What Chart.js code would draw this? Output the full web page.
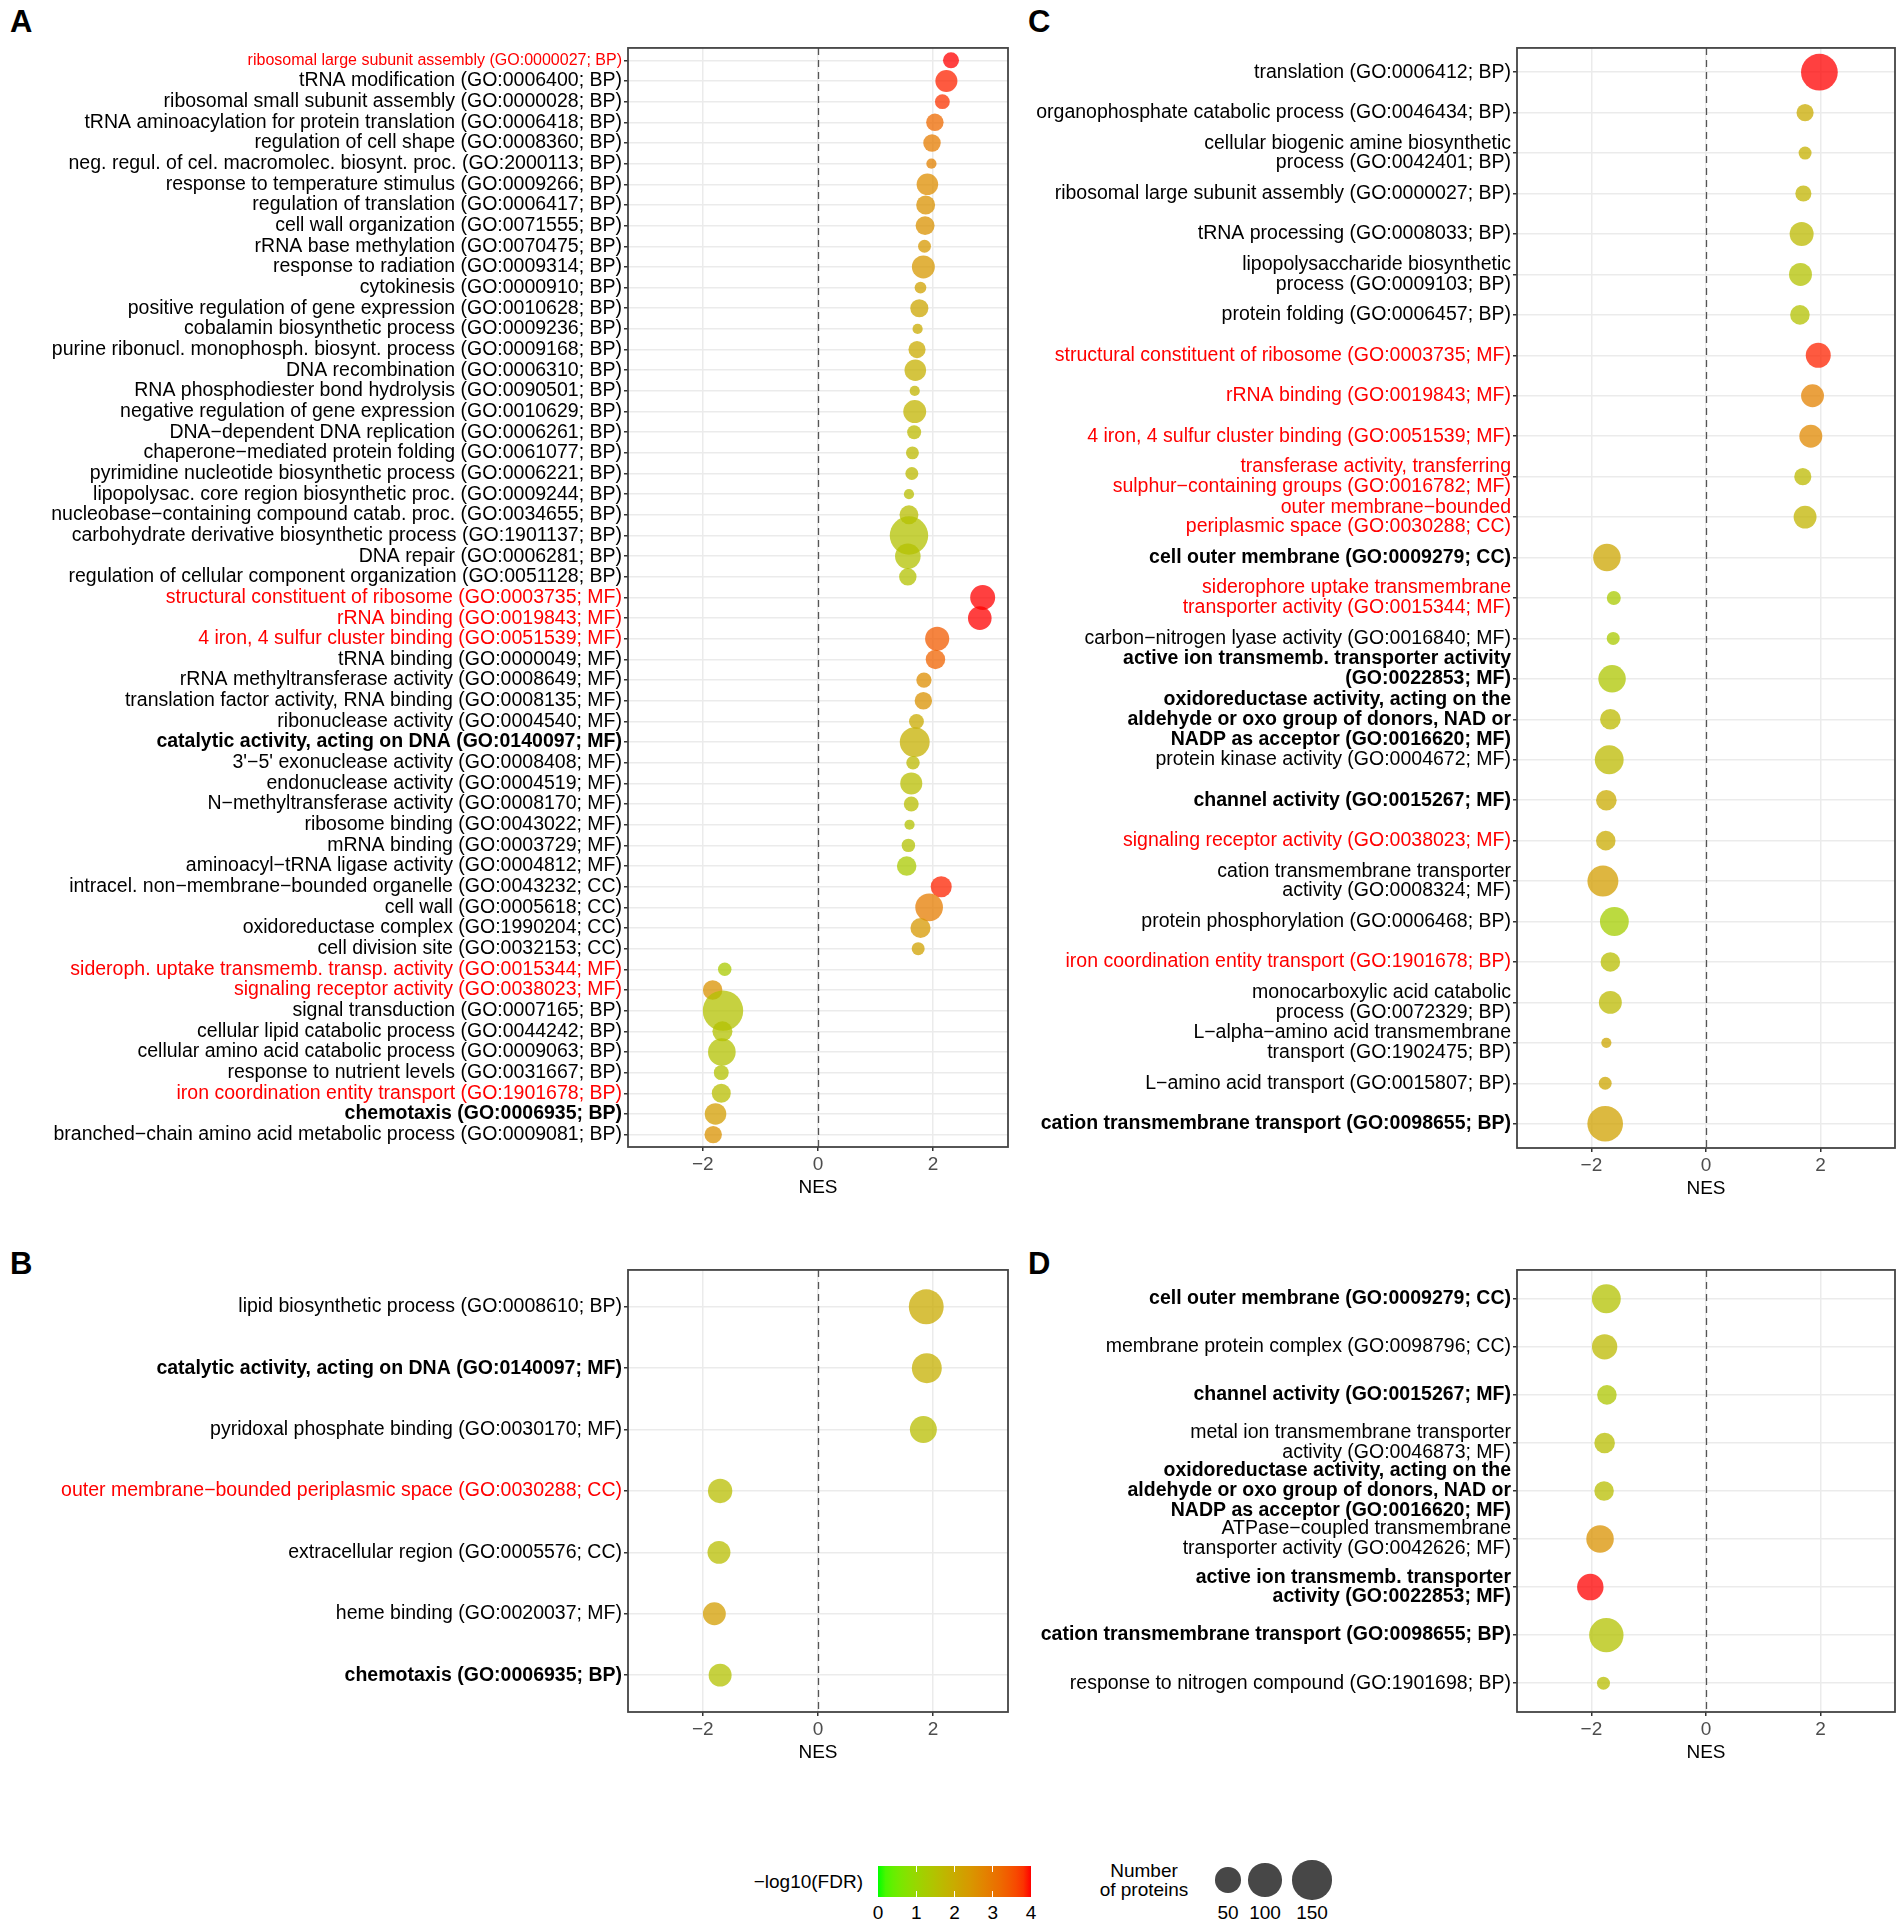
<!DOCTYPE html>
<html>
<head>
<meta charset="utf-8">
<script src="https://cdn.jsdelivr.net/npm/chart.js@4.4.0/dist/chart.umd.min.js"></script>
<style>
  body { margin: 0; background: #fff; width: 1904px; height: 1929px; position: relative; overflow: hidden;
         font-family: "Liberation Sans", Arial, sans-serif; color: #000; }
  canvas { position: absolute; }
  .tag { position: absolute; font-weight: bold; font-size: 31px; line-height: 31px; }
</style>
</head>
<body>
<div class="tag" style="left:10px;top:6px">A</div>
<div class="tag" style="left:1028px;top:6px">C</div>
<div class="tag" style="left:10px;top:1248px">B</div>
<div class="tag" style="left:1028px;top:1248px">D</div>
<canvas id="panelA"></canvas>
<canvas id="panelB"></canvas>
<canvas id="panelC"></canvas>
<canvas id="panelD"></canvas>
<div id="legend"></div>
<script>
// ---- panel A ----
const aLabels = [
  'ribosomal large subunit assembly (GO:0000027; BP)',
  'tRNA modification (GO:0006400; BP)',
  'ribosomal small subunit assembly (GO:0000028; BP)',
  'tRNA aminoacylation for protein translation (GO:0006418; BP)',
  'regulation of cell shape (GO:0008360; BP)',
  'neg. regul. of cel. macromolec. biosynt. proc. (GO:2000113; BP)',
  'response to temperature stimulus (GO:0009266; BP)',
  'regulation of translation (GO:0006417; BP)',
  'cell wall organization (GO:0071555; BP)',
  'rRNA base methylation (GO:0070475; BP)',
  'response to radiation (GO:0009314; BP)',
  'cytokinesis (GO:0000910; BP)',
  'positive regulation of gene expression (GO:0010628; BP)',
  'cobalamin biosynthetic process (GO:0009236; BP)',
  'purine ribonucl. monophosph. biosynt. process (GO:0009168; BP)',
  'DNA recombination (GO:0006310; BP)',
  'RNA phosphodiester bond hydrolysis (GO:0090501; BP)',
  'negative regulation of gene expression (GO:0010629; BP)',
  'DNA\u2212dependent DNA replication (GO:0006261; BP)',
  'chaperone\u2212mediated protein folding (GO:0061077; BP)',
  'pyrimidine nucleotide biosynthetic process (GO:0006221; BP)',
  'lipopolysac. core region biosynthetic proc. (GO:0009244; BP)',
  'nucleobase\u2212containing compound catab. proc. (GO:0034655; BP)',
  'carbohydrate derivative biosynthetic process (GO:1901137; BP)',
  'DNA repair (GO:0006281; BP)',
  'regulation of cellular component organization (GO:0051128; BP)',
  'structural constituent of ribosome (GO:0003735; MF)',
  'rRNA binding (GO:0019843; MF)',
  '4 iron, 4 sulfur cluster binding (GO:0051539; MF)',
  'tRNA binding (GO:0000049; MF)',
  'rRNA methyltransferase activity (GO:0008649; MF)',
  'translation factor activity, RNA binding (GO:0008135; MF)',
  'ribonuclease activity (GO:0004540; MF)',
  'catalytic activity, acting on DNA (GO:0140097; MF)',
  "3'\u22125' exonuclease activity (GO:0008408; MF)",
  'endonuclease activity (GO:0004519; MF)',
  'N\u2212methyltransferase activity (GO:0008170; MF)',
  'ribosome binding (GO:0043022; MF)',
  'mRNA binding (GO:0003729; MF)',
  'aminoacyl\u2212tRNA ligase activity (GO:0004812; MF)',
  'intracel. non\u2212membrane\u2212bounded organelle (GO:0043232; CC)',
  'cell wall (GO:0005618; CC)',
  'oxidoreductase complex (GO:1990204; CC)',
  'cell division site (GO:0032153; CC)',
  'sideroph. uptake transmemb. transp. activity (GO:0015344; MF)',
  'signaling receptor activity (GO:0038023; MF)',
  'signal transduction (GO:0007165; BP)',
  'cellular lipid catabolic process (GO:0044242; BP)',
  'cellular amino acid catabolic process (GO:0009063; BP)',
  'response to nutrient levels (GO:0031667; BP)',
  'iron coordination entity transport (GO:1901678; BP)',
  'chemotaxis (GO:0006935; BP)',
  'branched\u2212chain amino acid metabolic process (GO:0009081; BP)'
];
const aNES = [2.31, 2.23, 2.16, 2.03, 1.98, 1.97, 1.90, 1.87, 1.86, 1.85, 1.83, 1.78, 1.76,
  1.73, 1.72, 1.69, 1.68, 1.68, 1.67, 1.64, 1.63, 1.58, 1.58, 1.58, 1.56, 1.56,
  2.86, 2.81, 2.07, 2.04, 1.84, 1.83, 1.71, 1.68, 1.65, 1.62, 1.62, 1.59, 1.57, 1.54,
  2.14, 1.93, 1.78, 1.74,
  -1.62, -1.83, -1.65, -1.66, -1.67, -1.68, -1.68, -1.78, -1.82];
const aLogFDR = [4.0, 3.9, 3.8, 3.2, 2.9, 2.8, 2.6, 2.5, 2.5, 2.4, 2.4, 2.2, 2.1,
  2.0, 2.0, 1.9, 1.8, 1.8, 1.7, 1.7, 1.7, 1.6, 1.6, 1.5, 1.5, 1.5,
  4.0, 4.0, 3.4, 3.3, 2.6, 2.5, 2.0, 1.9, 1.7, 1.6, 1.6, 1.5, 1.5, 1.3,
  3.9, 2.9, 2.4, 2.2,
  1.3, 2.5, 1.5, 1.5, 1.5, 1.5, 1.6, 2.3, 2.5];
const aProteins = [13, 34, 10, 17, 17, 2, 32, 22, 22, 6, 38, 4, 19,
  2, 16, 32, 2, 38, 8, 6, 6, 2, 22, 143, 51, 17,
  48, 41, 44, 24, 11, 17, 10, 77, 7, 34, 10, 2, 7, 24,
  30, 63, 26, 6,
  7, 24, 161, 26, 63, 10, 22, 32, 17];
// 0 plain, 1 red, 2 bold, 3 red (small)
const aMark = [3, 0, 0, 0, 0, 0, 0, 0, 0, 0, 0, 0, 0, 0, 0, 0, 0, 0, 0, 0, 0, 0, 0, 0, 0, 0,
  1, 1, 1, 0, 0, 0, 0, 2, 0, 0, 0, 0, 0, 0,
  0, 0, 0, 0,
  1, 1, 0, 0, 0, 0, 1, 2, 0];

// ---- panel B ----
const bLabels = [
  'lipid biosynthetic process (GO:0008610; BP)',
  'catalytic activity, acting on DNA (GO:0140097; MF)',
  'pyridoxal phosphate binding (GO:0030170; MF)',
  'outer membrane\u2212bounded periplasmic space (GO:0030288; CC)',
  'extracellular region (GO:0005576; CC)',
  'heme binding (GO:0020037; MF)',
  'chemotaxis (GO:0006935; BP)'
];
const bNES = [1.88, 1.89, 1.83, -1.70, -1.72, -1.80, -1.70];
const bLogFDR = [2.0, 1.9, 1.6, 1.6, 1.6, 2.3, 1.5];
const bProteins = [113, 77, 59, 45, 38, 38, 38];
const bMark = [0, 2, 0, 1, 0, 0, 2];

// ---- panel C ----
const cLabels = [
  'translation (GO:0006412; BP)',
  'organophosphate catabolic process (GO:0046434; BP)',
  'cellular biogenic amine biosynthetic\nprocess (GO:0042401; BP)',
  'ribosomal large subunit assembly (GO:0000027; BP)',
  'tRNA processing (GO:0008033; BP)',
  'lipopolysaccharide biosynthetic\nprocess (GO:0009103; BP)',
  'protein folding (GO:0006457; BP)',
  'structural constituent of ribosome (GO:0003735; MF)',
  'rRNA binding (GO:0019843; MF)',
  '4 iron, 4 sulfur cluster binding (GO:0051539; MF)',
  'transferase activity, transferring\nsulphur\u2212containing groups (GO:0016782; MF)',
  'outer membrane\u2212bounded\nperiplasmic space (GO:0030288; CC)',
  'cell outer membrane (GO:0009279; CC)',
  'siderophore uptake transmembrane\ntransporter activity (GO:0015344; MF)',
  'carbon\u2212nitrogen lyase activity (GO:0016840; MF)',
  'active ion transmemb. transporter activity\n(GO:0022853; MF)\n',
  'oxidoreductase activity, acting on the\naldehyde or oxo group of donors, NAD or\nNADP as acceptor (GO:0016620; MF)',
  'protein kinase activity (GO:0004672; MF)',
  'channel activity (GO:0015267; MF)',
  'signaling receptor activity (GO:0038023; MF)',
  'cation transmembrane transporter\nactivity (GO:0008324; MF)',
  'protein phosphorylation (GO:0006468; BP)',
  'iron coordination entity transport (GO:1901678; BP)',
  'monocarboxylic acid catabolic\nprocess (GO:0072329; BP)',
  'L\u2212alpha\u2212amino acid transmembrane\ntransport (GO:1902475; BP)',
  'L\u2212amino acid transport (GO:0015807; BP)',
  'cation transmembrane transport (GO:0098655; BP)'
];
const cNES = [1.98, 1.73, 1.73, 1.70, 1.67, 1.65, 1.64, 1.96, 1.86, 1.83, 1.69, 1.73,
  -1.73, -1.61, -1.62, -1.64, -1.67, -1.69, -1.74, -1.75, -1.80, -1.60, -1.67, -1.67, -1.74, -1.76, -1.76];
const cLogFDR = [4.0, 2.0, 1.9, 1.8, 1.7, 1.5, 1.5, 3.9, 2.8, 2.7, 1.7, 1.8,
  2.1, 1.3, 1.3, 1.4, 1.7, 1.7, 2.0, 2.0, 2.3, 1.2, 1.6, 1.7, 2.1, 2.1, 2.2];
const cProteins = [128, 16, 6, 13, 43, 38, 24, 48, 38, 38, 16, 38,
  62, 8, 6, 62, 28, 70, 28, 24, 84, 70, 24, 38, 2, 6, 119];
const cMark = [0, 0, 0, 0, 0, 0, 0, 1, 1, 1, 1, 1, 2, 1, 0, 2, 2, 0, 2, 1, 0, 0, 1, 0, 0, 0, 2];

// ---- panel D ----
const dLabels = [
  'cell outer membrane (GO:0009279; CC)',
  'membrane protein complex (GO:0098796; CC)',
  'channel activity (GO:0015267; MF)',
  'metal ion transmembrane transporter\nactivity (GO:0046873; MF)',
  'oxidoreductase activity, acting on the\naldehyde or oxo group of donors, NAD or\nNADP as acceptor (GO:0016620; MF)',
  'ATPase\u2212coupled transmembrane\ntransporter activity (GO:0042626; MF)',
  'active ion transmemb. transporter\nactivity (GO:0022853; MF)',
  'cation transmembrane transport (GO:0098655; BP)',
  'response to nitrogen compound (GO:1901698; BP)'
];
const dNES = [-1.74, -1.77, -1.73, -1.77, -1.78, -1.85, -2.02, -1.74, -1.79];
const dLogFDR = [1.5, 1.7, 1.4, 1.6, 1.6, 2.5, 4.0, 1.5, 1.6];
const dProteins = [70, 50, 24, 28, 24, 62, 56, 109, 6];
const dMark = [2, 0, 2, 0, 2, 0, 2, 2, 0];

// axes / legends
const xTicks = [-2, 0, 2];
const fdrBreaks = [0, 1, 2, 3, 4];
const sizeBreaks = [50, 100, 150];

const FONT = '"Liberation Sans", Arial, sans-serif';

// green -> red in Lab space, as ggplot's gradient does
function lin(c) { c /= 255; return c <= 0.04045 ? c / 12.92 : Math.pow((c + 0.055) / 1.055, 2.4); }
function gam(c) { c = c <= 0.0031308 ? 12.92 * c : 1.055 * Math.pow(c, 1 / 2.4) - 0.055; return Math.round(Math.max(0, Math.min(1, c)) * 255); }
function toLab(rgb) {
  const [r, g, b] = rgb.map(lin);
  const X = (0.4124 * r + 0.3576 * g + 0.1805 * b) / 0.95047;
  const Y = 0.2126 * r + 0.7152 * g + 0.0722 * b;
  const Z = (0.0193 * r + 0.1192 * g + 0.9505 * b) / 1.08883;
  const f = t => t > 0.008856 ? Math.cbrt(t) : 7.787 * t + 16 / 116;
  return [116 * f(Y) - 16, 500 * (f(X) - f(Y)), 200 * (f(Y) - f(Z))];
}
function fromLab([L, a, b]) {
  const fy = (L + 16) / 116, fx = fy + a / 500, fz = fy - b / 200;
  const inv = t => t * t * t > 0.008856 ? t * t * t : (t - 16 / 116) / 7.787;
  const X = 0.95047 * inv(fx), Y = inv(fy), Z = 1.08883 * inv(fz);
  return [gam(3.2406 * X - 1.5372 * Y - 0.4986 * Z),
          gam(-0.9689 * X + 1.8758 * Y + 0.0415 * Z),
          gam(0.0557 * X - 0.2040 * Y + 1.0570 * Z)];
}
const LOW = toLab([0, 255, 0]), HIGH = toLab([255, 0, 0]);
function fdrColor(v, alpha) {
  const t = Math.max(0, Math.min(1, v / 4));
  const c = fromLab(LOW.map((l, i) => l + (HIGH[i] - l) * t));
  return `rgba(${c[0]},${c[1]},${c[2]},${alpha})`;
}
// bubble diameter from protein count, fitted to the size legend
const diameter = n => 6.4 + 2.68 * Math.sqrt(n);

const frame = {
  id: 'frame',
  beforeDatasetsDraw(chart) {
    const { ctx, chartArea: a, scales: { x } } = chart;
    const px = Math.round(x.getPixelForValue(0)) + 0.5;
    ctx.save();
    ctx.strokeStyle = '#555';
    ctx.lineWidth = 1.3;
    ctx.setLineDash([7, 5]);
    ctx.beginPath();
    ctx.moveTo(px, a.top);
    ctx.lineTo(px, a.bottom);
    ctx.stroke();
    ctx.restore();
  },
  afterDraw(chart) {
    const { ctx, chartArea: a } = chart;
    ctx.save();
    ctx.strokeStyle = '#444';
    ctx.lineWidth = 1.8;
    ctx.strokeRect(a.left, a.top, a.right - a.left, a.bottom - a.top);
    ctx.restore();
  }
};

function makePanel(id, box, labels, nes, lfdr, prot, mark) {
  const n = labels.length;
  const cv = document.getElementById(id);
  cv.style.left = box.left + 'px';
  cv.style.top = box.top + 'px';
  cv.width = box.width;
  cv.height = box.height;
  return new Chart(cv, {
    type: 'bubble',
    data: {
      datasets: [{
        data: nes.map((v, i) => ({ x: v, y: i, r: diameter(prot[i]) / 2 })),
        backgroundColor: lfdr.map(v => fdrColor(v, 0.75)),
        borderWidth: 0,
        hoverBorderWidth: 0,
        hoverRadius: 0
      }]
    },
    options: {
      responsive: false,
      animation: false,
      devicePixelRatio: 1,
      events: [],
      layout: { autoPadding: false, padding: { top: box.padTop, right: box.padRight, left: 0, bottom: 0 } },
      plugins: { legend: { display: false }, tooltip: { enabled: false } },
      scales: {
        x: {
          type: 'linear', min: -3.3, max: 3.3,
          afterBuildTicks: s => { s.ticks = xTicks.map(v => ({ value: v })); },
          afterFit: s => { s.height = box.axisH; },
          ticks: {
            font: { family: FONT, size: 19, lineHeight: 1 }, color: '#4d4d4d', padding: 4,
            callback: v => (v < 0 ? '\u2212' + Math.abs(v) : String(v))
          },
          grid: { color: '#ebebeb', lineWidth: 1.5, tickLength: 4, tickColor: '#333', tickWidth: 1.5 },
          border: { display: false },
          title: { display: true, text: 'NES', color: '#000', font: { family: FONT, size: 19, lineHeight: 1 }, padding: { top: 2, bottom: 0 } }
        },
        y: {
          type: 'linear', reverse: true, min: -0.6, max: n - 0.4,
          afterBuildTicks: s => { s.ticks = labels.map((_, i) => ({ value: i })); },
          afterFit: s => { s.width = box.axisW; },
          ticks: {
            autoSkip: false,
            padding: 2,
            color: c => (mark[c.index] === 1 || mark[c.index] === 3 ? '#ff0000' : '#000'),
            font: c => ({
              family: FONT,
              size: mark[c.index] === 3 ? 16 : 19.5,
              weight: mark[c.index] === 2 ? 'bold' : 'normal',
              lineHeight: 1.02
            }),
            callback: v => labels[v].split('\n')
          },
          grid: { color: '#ebebeb', lineWidth: 1.5, tickLength: 4, tickColor: '#333', tickWidth: 1.5 },
          border: { display: false }
        }
      }
    },
    plugins: [frame]
  });
}

makePanel('panelA', { left: 0, top: 36, width: 1014, height: 1161, padTop: 10, padRight: 6, axisW: 628, axisH: 50 },
  aLabels, aNES, aLogFDR, aProteins, aMark);
makePanel('panelC', { left: 1000, top: 36, width: 904, height: 1162, padTop: 10, padRight: 9, axisW: 517, axisH: 50 },
  cLabels, cNES, cLogFDR, cProteins, cMark);
makePanel('panelB', { left: 0, top: 1258, width: 1014, height: 504, padTop: 10, padRight: 6, axisW: 628, axisH: 50 },
  bLabels, bNES, bLogFDR, bProteins, bMark);
makePanel('panelD', { left: 1000, top: 1258, width: 904, height: 504, padTop: 10, padRight: 9, axisW: 517, axisH: 50 },
  dLabels, dNES, dLogFDR, dProteins, dMark);

// shared legend (colour bar + size key)
(function legend() {
  const lg = document.getElementById('legend');
  const add = (html, style) => {
    const d = document.createElement('div');
    d.innerHTML = html;
    d.style.cssText = 'position:absolute;white-space:nowrap;' + style;
    lg.appendChild(d);
    return d;
  };
  add('\u2212log10(FDR)', 'left:663px;top:1871px;width:200px;text-align:right;font-size:19px;line-height:22px;');
  const barL = 878, barW = 153, barT = 1866, barH = 31;
  const stops = [];
  for (let i = 0; i <= 20; i++) stops.push(fdrColor(i / 5, 1) + ' ' + (i * 5) + '%');
  add('', `left:${barL}px;top:${barT}px;width:${barW}px;height:${barH}px;background:linear-gradient(to right,${stops.join(',')});`);
  fdrBreaks.forEach(v => {
    const x = barL + barW * v / 4;
    if (v > 0 && v < 4) {
      add('', `left:${x - 0.5}px;top:${barT}px;width:1px;height:6px;background:#fff;`);
      add('', `left:${x - 0.5}px;top:${barT + barH - 6}px;width:1px;height:6px;background:#fff;`);
    }
    add(String(v), `left:${x - 20}px;top:1902px;width:40px;text-align:center;font-size:19px;line-height:22px;`);
  });
  add('Number<br>of proteins', 'left:1084px;top:1861px;width:120px;text-align:center;font-size:19px;line-height:19px;');
  const centres = [1228, 1265, 1312];
  sizeBreaks.forEach((v, i) => {
    const d = diameter(v);
    add('', `left:${centres[i] - d / 2}px;top:${1880 - d / 2}px;width:${d}px;height:${d}px;border-radius:50%;background:rgba(0,0,0,0.72);`);
    add(String(v), `left:${centres[i] - 25}px;top:1902px;width:50px;text-align:center;font-size:19px;line-height:22px;`);
  });
})();
</script>
</body>
</html>
